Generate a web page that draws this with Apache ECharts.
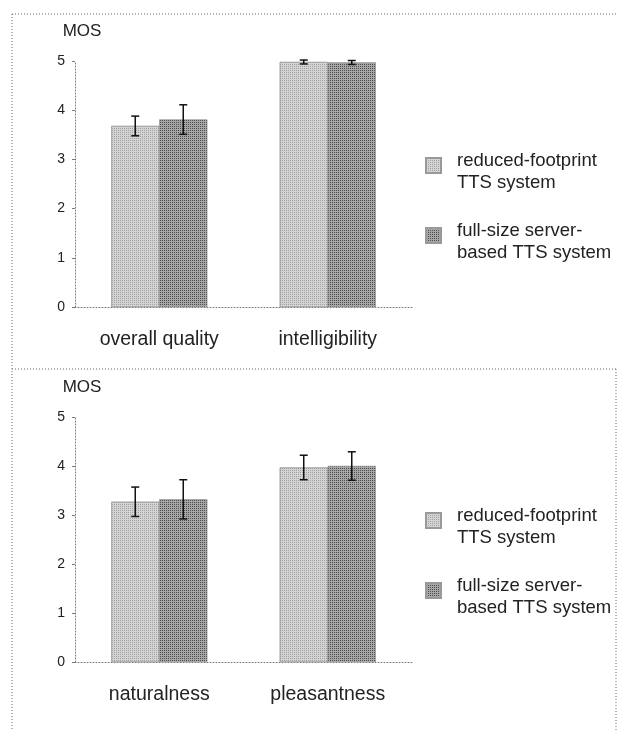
<!DOCTYPE html>
<html>
<head>
<meta charset="utf-8">
<script src="https://cdn.jsdelivr.net/npm/echarts@6/dist/echarts.min.js"></script>
<style>
  html, body { margin: 0; padding: 0; background: #fff; }
  #chart { width: 618px; height: 731px; }
</style>
</head>
<body>
<div id="chart"></div>
<script>
const chart = echarts.init(document.getElementById("chart"));

// data
const topCategories = ["overall quality", "intelligibility"];
const bottomCategories = ["naturalness", "pleasantness"];
const yTicks = [0, 1, 2, 3, 4, 5];

const reducedTop = [3.68, 4.98];
const reducedTopErr = [0.2, 0.04];
const fullTop = [3.81, 4.97];
const fullTopErr = [0.3, 0.04];

const reducedBottom = [3.27, 3.97];
const reducedBottomErr = [0.3, 0.25];
const fullBottom = [3.32, 4.0];
const fullBottomErr = [0.4, 0.29];

const NAME_REDUCED = "reduced-footprint TTS system";
const NAME_FULL = "full-size server-based TTS system";
const LEGEND_TEXT = {};
LEGEND_TEXT[NAME_REDUCED] = "reduced-footprint\nTTS system";
LEGEND_TEXT[NAME_FULL] = "full-size server-\nbased TTS system";

const FONT = "Liberation Sans";
const TEXT = "#222";
const AXIS = "#777";
const LIGHT = "#d4d4d4";
const DARK = "#a6a6a6";
const GAP = 0.43;

function errData(vals, errs) {
	return vals.map((v, i) => [i, v - errs[i], v + errs[i]]);
}

// side: -1 left bar, +1 right bar
function errorBar(side) {
	return function (params, api) {
		const band = api.size([1, 0])[0];
		const off = side * band * (1 - GAP) / 4;
		const lo = api.coord([api.value(0), api.value(1)]);
		const hi = api.coord([api.value(0), api.value(2)]);
		const x = lo[0] + off;
		const cap = 4;
		const style = { stroke: "#111", lineWidth: 1.5 };
		return {
			type: "group",
			children: [
				{ type: "line", shape: { x1: x, y1: lo[1], x2: x, y2: hi[1] }, style: style },
				{ type: "line", shape: { x1: x - cap, y1: lo[1], x2: x + cap, y2: lo[1] }, style: style },
				{ type: "line", shape: { x1: x - cap, y1: hi[1], x2: x + cap, y2: hi[1] }, style: style }
			]
		};
	};
}

function xAxis(idx, cats) {
	return {
		type: "category",
		gridIndex: idx,
		data: cats,
		axisLine: { lineStyle: { color: AXIS, type: [1, 2], width: 1 } },
		axisTick: { length: 4, lineStyle: { color: AXIS, type: [1, 1] } },
		axisLabel: { fontFamily: FONT, fontSize: 19.5, color: TEXT, margin: 23 }
	};
}

function yAxis(idx) {
	return {
		type: "value",
		gridIndex: idx,
		min: yTicks[0],
		max: yTicks[yTicks.length - 1],
		interval: 1,
		name: "MOS",
		nameLocation: "end",
		nameGap: 21,
		nameTextStyle: { fontFamily: FONT, fontSize: 17, color: TEXT, align: "center", padding: [0, 0, 0, 14] },
		axisLine: { show: true, lineStyle: { color: AXIS, type: [1, 2], width: 1 } },
		axisTick: { show: true, length: 3, lineStyle: { color: AXIS } },
		axisLabel: { fontFamily: FONT, fontSize: 14, color: TEXT, margin: 10 },
		splitLine: { show: false }
	};
}

// square sitting near the first text line inside a taller icon box
const LEGEND_ICON = "path://M0,0M0,44M0,8H15V23H0Z";

function legend(top) {
	return {
		top: top,
		left: 420,
		orient: "vertical",
		icon: LEGEND_ICON,
		itemWidth: 15,
		itemHeight: 44,
		itemGap: 24,
		data: [NAME_REDUCED, NAME_FULL],
		formatter: (name) => LEGEND_TEXT[name],
		textStyle: { fontFamily: FONT, fontSize: 18.5, color: TEXT, lineHeight: 22, padding: [0, 0, 0, 11] }
	};
}

function bars(name, data, idx, color, dots) {
	return {
		name: name,
		type: "bar",
		xAxisIndex: idx,
		yAxisIndex: idx,
		data: data,
		barGap: "0%",
		barCategoryGap: GAP * 100 + "%",
		itemStyle: {
			color: color,
			borderColor: "#999",
			borderWidth: 0.5,
			decal: { symbol: "rect", symbolSize: 1, dashArrayX: [1, 1], dashArrayY: [1, 1], color: dots }
		}
	};
}

function errors(name, data, idx, side) {
	return {
		name: name,
		type: "custom",
		xAxisIndex: idx,
		yAxisIndex: idx,
		data: data,
		renderItem: errorBar(side),
		z: 5,
		silent: true
	};
}

const dotted = { stroke: "#666", lineWidth: 1, lineDash: [1, 2] };

option = {
	backgroundColor: "#fff",
	animation: false,
	color: [LIGHT, DARK],
	grid: [
		{ left: 75, right: 206, top: 61, bottom: 424 },
		{ left: 75, right: 206, top: 417, bottom: 69 }
	],
	xAxis: [xAxis(0, topCategories), xAxis(1, bottomCategories)],
	yAxis: [yAxis(0), yAxis(1)],
	legend: [legend(144), legend(499)],
	series: [
		bars(NAME_REDUCED, reducedTop, 0, LIGHT, "rgba(110,110,110,0.5)"),
		bars(NAME_FULL, fullTop, 0, DARK, "rgba(30,30,30,0.65)"),
		bars(NAME_REDUCED, reducedBottom, 1, LIGHT, "rgba(110,110,110,0.5)"),
		bars(NAME_FULL, fullBottom, 1, DARK, "rgba(30,30,30,0.65)"),
		errors(NAME_REDUCED, errData(reducedTop, reducedTopErr), 0, -1),
		errors(NAME_FULL, errData(fullTop, fullTopErr), 0, 1),
		errors(NAME_REDUCED, errData(reducedBottom, reducedBottomErr), 1, -1),
		errors(NAME_FULL, errData(fullBottom, fullBottomErr), 1, 1)
	],
	graphic: [
		{ type: "line", shape: { x1: 12, y1: 14, x2: 617, y2: 14 }, style: dotted, silent: true },
		{ type: "line", shape: { x1: 12, y1: 14, x2: 12, y2: 731 }, style: dotted, silent: true },
		{ type: "line", shape: { x1: 12, y1: 369, x2: 617, y2: 369 }, style: dotted, silent: true },
		{ type: "line", shape: { x1: 616, y1: 369, x2: 616, y2: 731 }, style: dotted, silent: true }
	]
};

chart.setOption(option);
window.onresize = chart.resize;
</script>
</body>
</html>
